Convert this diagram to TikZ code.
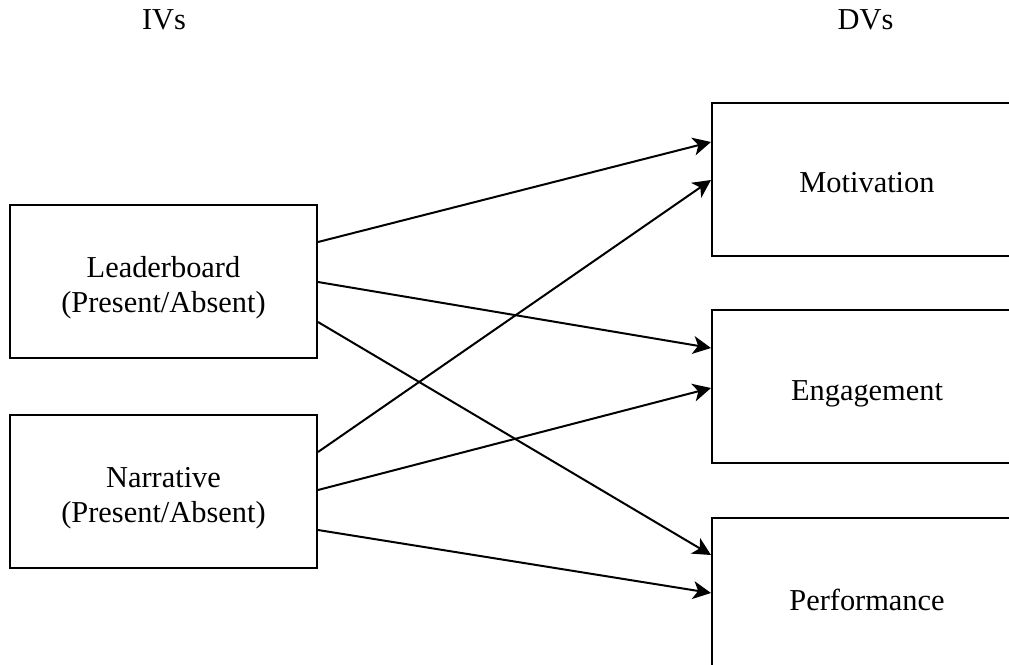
\documentclass[tikz,border=0pt]{standalone}
\usepackage{fontspec}
\setmainfont{Liberation Serif}
\usetikzlibrary{arrows.meta,calc}
\begin{document}
\begin{tikzpicture}[x=0.5pt,y=-0.5pt,
  varbox/.style={draw=black,line width=1pt,fill=white,align=center,
    font=\fontsize{15.2}{17.2}\selectfont,inner sep=0pt,text depth=3.5pt},
  ivbox/.style={varbox,minimum width=153.5pt,minimum height=76.5pt,text height=34pt},
  dvbox/.style={varbox,minimum width=155pt,minimum height=76.5pt,text height=17pt},
  heading/.style={font=\fontsize{15.2}{17.2}\selectfont,inner sep=0pt},
  link/.style={line width=1pt,-{Stealth[length=9pt,width=9pt,inset=2.5pt]}}]
  \useasboundingbox (0,0) rectangle (1009,665);
  \clip (0,0) rectangle (1009,665);

  % column headings
  \node[heading] (iv) at (164,20) {IVs};
  \node[heading] (dv) at (865.5,20) {DVs};

  % independent variables
  \node[ivbox] (lead) at (163.5,281.5) {Leaderboard\\(Present/Absent)};
  \node[ivbox] (narr) at (163.5,491.5) {Narrative\\(Present/Absent)};

  % dependent variables
  \node[dvbox] (moti) at (867,179) {Motivation};
  \node[dvbox] (enga) at (867,386.5) {Engagement};
  \node[dvbox,minimum height=79pt] (perf) at (867,597) {Performance};

  % effects
  \draw[link] ($(lead.east)+(0,-39.5)$) -- ($(moti.west)+(0,-37)$);
  \draw[link] ($(lead.east)+(0,0.5)$) -- ($(enga.west)+(0,-38.5)$);
  \draw[link] ($(lead.east)+(0,40.5)$) -- ($(perf.west)+(0,-42)$);
  \draw[link] ($(narr.east)+(0,-39.5)$) -- ($(moti.west)+(0,1)$);
  \draw[link] ($(narr.east)+(0,-1.5)$) -- ($(enga.west)+(0,1.5)$);
  \draw[link] ($(narr.east)+(0,38.5)$) -- ($(perf.west)+(0,-4)$);
\end{tikzpicture}
\end{document}
